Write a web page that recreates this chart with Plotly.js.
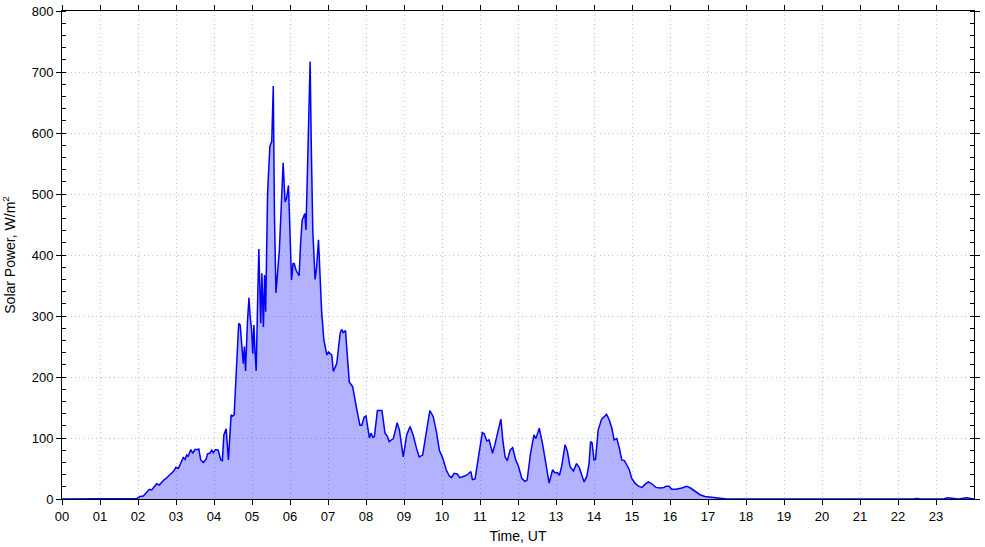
<!DOCTYPE html>
<html>
<head>
<meta charset="utf-8">
<script src="https://cdn.plot.ly/plotly-3.0.1.min.js"></script>
<style>html,body{margin:0;padding:0;background:#fff;}#chart{width:985px;height:547px;}</style>
</head>
<body>
<div id="chart"></div>
<script>
// Time in hours (UT)
const hours = [0,1.90,1.97,2.05,2.14,2.21,2.30,2.36,2.42,2.49,2.56,2.62,2.68,2.74,2.80,2.86,2.93,3.00,3.06,3.12,3.19,3.24,3.28,3.32,3.39,3.44,3.50,3.56,3.60,3.65,3.72,3.79,3.83,3.89,3.94,3.98,4.04,4.11,4.18,4.22,4.26,4.32,4.38,4.45,4.49,4.53,4.58,4.62,4.65,4.69,4.74,4.77,4.80,4.83,4.88,4.92,4.95,4.99,5.02,5.05,5.08,5.11,5.15,5.18,5.23,5.26,5.30,5.33,5.36,5.41,5.47,5.52,5.56,5.59,5.63,5.68,5.72,5.77,5.82,5.87,5.91,5.96,6.00,6.04,6.08,6.11,6.16,6.24,6.28,6.32,6.39,6.42,6.46,6.50,6.53,6.56,6.60,6.66,6.70,6.75,6.79,6.83,6.89,6.97,7.01,7.10,7.14,7.23,7.32,7.36,7.40,7.46,7.56,7.65,7.76,7.84,7.89,7.95,8.00,8.09,8.13,8.18,8.22,8.30,8.37,8.42,8.50,8.56,8.61,8.72,8.82,8.88,8.98,9.07,9.16,9.24,9.33,9.40,9.49,9.58,9.68,9.77,9.86,9.93,10.02,10.11,10.19,10.25,10.32,10.40,10.47,10.56,10.65,10.76,10.80,10.87,10.96,11.06,11.11,11.18,11.24,11.33,11.39,11.48,11.55,11.60,11.66,11.72,11.79,11.86,11.94,12.01,12.10,12.18,12.24,12.33,12.42,12.47,12.56,12.65,12.74,12.82,12.91,12.97,13.04,13.09,13.15,13.24,13.30,13.37,13.46,13.54,13.61,13.68,13.74,13.81,13.87,13.91,13.95,14.00,14.04,14.11,14.20,14.27,14.33,14.40,14.47,14.53,14.60,14.67,14.73,14.80,14.86,14.93,14.99,15.08,15.17,15.26,15.34,15.43,15.52,15.63,15.74,15.84,15.91,15.98,16.04,16.16,16.31,16.44,16.54,16.66,16.79,16.92,17.10,17.30,17.50,22.40,22.50,22.60,23.20,23.30,23.40,23.60,23.80,23.90,24.0];
// Solar power, W/m2
const power = [0,0,1,4,5,10,16,15,19,25,23,28,31,34,38,41,45,52,50,58,68,65,72,70,81,75,81,81,82,64,60,65,74,75,80,76,81,80,64,63,105,115,64,138,136,138,200,240,288,285,250,222,250,210,290,330,300,277,238,285,240,210,330,410,288,370,282,367,307,501,578,586,677,470,338,370,408,480,551,487,493,514,430,359,386,386,375,366,420,457,468,441,540,660,717,580,440,360,380,425,360,310,261,236,241,236,209,222,272,278,273,276,192,184,146,121,121,134,136,100,108,101,102,145,145,145,108,103,94,99,125,113,69,105,119,105,83,69,72,108,145,135,108,80,67,48,38,35,42,41,35,37,39,45,32,33,69,109,107,95,97,75,89,113,131,97,69,63,80,84,64,54,34,29,31,75,105,99,116,89,58,26,48,43,43,39,54,89,78,53,46,58,52,37,28,37,58,94,92,64,65,113,131,135,139,130,116,97,99,83,64,63,56,48,34,26,21,19,24,28,25,19,18,19,21,21,16,16,18,21,18,12,7,4,3,1,0,0,1,0,0,2,1,0,2,1,0];
// Tick labels
const hourTickVals = [0,1,2,3,4,5,6,7,8,9,10,11,12,13,14,15,16,17,18,19,20,21,22,23];
const hourTickText = ["00","01","02","03","04","05","06","07","08","09","10","11","12","13","14","15","16","17","18","19","20","21","22","23"];

const trace = {
  x: hours, y: power, type: 'scatter', mode: 'lines',
  fill: 'tozeroy', fillcolor: 'rgba(0,0,255,0.3)',
  line: {color: '#0000ff', width: 1.5},
  hoverinfo: 'skip'
};
const layout = {
  width: 985, height: 547,
  margin: {l: 62, r: 11, t: 11, b: 48},
  paper_bgcolor: '#fff', plot_bgcolor: '#fff',
  font: {family: '"Liberation Sans", Arial, sans-serif', size: 13, color: '#000'},
  showlegend: false,
  xaxis: {
    range: [0, 24], tickvals: hourTickVals, ticktext: hourTickText,
    ticks: 'outside', ticklen: 5, tickcolor: '#000', tickwidth: 1,
    showline: true, linecolor: '#000', linewidth: 1, mirror: 'allticks',
    showgrid: true, gridcolor: '#c4c4c4', griddash: '1px,3.3px', gridwidth: 1,
    zeroline: false,
    title: {text: 'Time, UT', font: {size: 14}, standoff: 8}
  },
  yaxis: {
    range: [0, 800], dtick: 100,
    ticks: 'outside', ticklen: 5, tickcolor: '#000', tickwidth: 1,
    minor: {dtick: 20, ticks: 'inside', ticklen: 4, tickcolor: '#000', showgrid: false},
    showline: true, linecolor: '#000', linewidth: 1, mirror: 'allticks',
    showgrid: true, gridcolor: '#c4c4c4', griddash: '1px,3.3px', gridwidth: 1,
    zeroline: false,
    title: {text: 'Solar Power, W/m<sup>2</sup>', font: {size: 14}, standoff: 12}
  }
};
Plotly.newPlot('chart', [trace], layout, {displayModeBar: false, staticPlot: true});
</script>
</body>
</html>
